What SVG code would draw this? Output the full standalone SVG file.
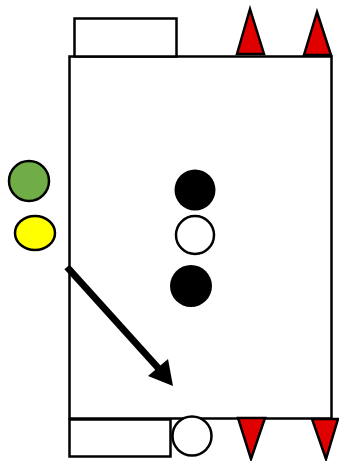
<svg xmlns="http://www.w3.org/2000/svg" width="339" height="461" viewBox="0 0 339 461">
<style>
.s{stroke:#000;stroke-width:2.5;}
.w{fill:#fff;}
.r{fill:#e00000;}
</style>
<rect width="339" height="461" fill="#fff"/>
<g id="field"><rect class="s w" x="69.5" y="56.5" width="262" height="362"/></g>
<g id="goal-top"><rect class="s w" x="74.5" y="18.5" width="102" height="38"/></g>
<g id="goal-bottom"><rect class="s w" x="69.5" y="419.5" width="101" height="37"/></g>
<g id="cone-t1"><polygon class="s r" points="250,9 237,54 264,54"/></g>
<g id="cone-t2"><polygon class="s r" points="317,12 304,55 331,55"/></g>
<g id="cone-b1"><polygon class="s r" points="238,418 265,418 251,459"/></g>
<g id="cone-b2"><polygon class="s r" points="312,419 338,419 326,459"/></g>
<g id="ball-bottom"><circle class="s w" cx="192" cy="436" r="19.5"/></g>
<g id="green"><circle class="s" fill="#70ad47" cx="29" cy="181" r="20"/></g>
<g id="yellow"><ellipse class="s" fill="#ffff00" cx="35" cy="233" rx="20" ry="17"/></g>
<g id="p1"><circle fill="#000" cx="195" cy="190" r="20.5"/></g>
<g id="p2"><circle class="s w" cx="195" cy="235" r="19"/></g>
<g id="p3"><circle fill="#000" cx="191" cy="286" r="21"/></g>
<g id="connectors">
<line x1="67" y1="267" x2="160" y2="370" stroke="#000" stroke-width="7"/>
<polygon points="173,386 148,376 168,359" fill="#000"/>
</g>
</svg>
